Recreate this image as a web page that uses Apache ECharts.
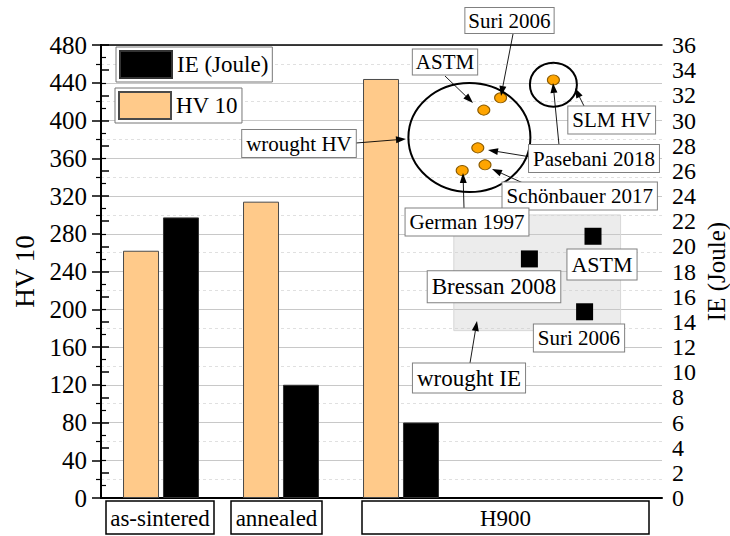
<!DOCTYPE html>
<html>
<head>
<meta charset="utf-8">
<script src="https://cdn.jsdelivr.net/npm/echarts@6/dist/echarts.min.js"></script>
<style>
html,body{margin:0;padding:0;background:#fff;}
#chart{width:730px;height:536px;}
</style>
</head>
<body>
<div id="chart"></div>
<script>
// ---------- data ----------
var categories = ['as-sintered', 'annealed', 'H900'];
var hvValues = [262, 314, 444];          // HV 10 (left axis)
var ieValues = [22.3, 9.0, 6.0];         // IE (Joule) (right axis)

var hvTicks = [0, 480, 40];              // min, max, interval
var ieTicks = [0, 36, 2];

// reference (wrought / SLM) hardness points: x position in axis units, HV value
var hvRefNames = ['ASTM', 'Suri 2006', 'Pasebani 2018', 'Schönbauer 2017', 'German 1997', 'SLM'];
var hvRefX = [3.19, 3.33, 3.14, 3.20, 3.01, 3.77];
var hvRefY = [411, 424, 371, 353, 347, 443];

// reference wrought impact energy points
var ieRefNames = ['Bressan 2008', 'ASTM', 'Suri 2006'];
var ieRefX = [3.57, 4.10, 4.03];
var ieRefY = [19.0, 20.8, 14.8];

// wrought IE band
var wroughtIEx = [2.94, 4.33];
var wroughtIEy = [13.3, 22.5];

// wrought HV / SLM HV encircled groups: centre x, centre HV
var wroughtHVCentre = [3.07, 382];
var slmHVCentre = [3.77, 438];

var FONT = "'Liberation Serif', 'Times New Roman', Times, serif";

var chart = echarts.init(document.getElementById('chart'), null, {renderer: 'svg'});

var groupX = categories.map(function (c, i) { return i + 0.5; });

var option = {
  animation: false,
  backgroundColor: '#fff',
  textStyle: {fontFamily: FONT},
  grid: {left: 101, right: 68, top: 45, bottom: 38, containLabel: false, outerBoundsMode: 'none'},
  legend: [
    {
      data: ['IE (Joule)'], left: 116, top: 47, icon: 'rect',
      itemWidth: 52, itemHeight: 27, borderColor: '#777', borderWidth: 1,
      padding: [3, 4, 3, 3], backgroundColor: '#fff', selectedMode: false,
      textStyle: {fontFamily: FONT, fontSize: 23, color: '#000'}
    },
    {
      data: ['HV 10'], left: 115, top: 88, icon: 'rect',
      itemWidth: 52, itemHeight: 27, borderColor: '#777', borderWidth: 1,
      padding: [3, 4, 3, 3], backgroundColor: '#fff', selectedMode: false,
      textStyle: {fontFamily: FONT, fontSize: 23, color: '#000'}
    }
  ],
  xAxis: [
    {
      type: 'value', min: 0, max: 4.675, position: 'bottom',
      axisLine: {show: true, onZero: false, lineStyle: {color: '#000', width: 2}},
      axisTick: {show: false}, axisLabel: {show: false}, splitLine: {show: false}
    },
    {
      type: 'value', min: 0, max: 4.675, position: 'top',
      axisLine: {show: true, onZero: false, lineStyle: {color: '#000', width: 1.5}},
      axisTick: {show: false}, axisLabel: {show: false}, splitLine: {show: false}
    }
  ],
  yAxis: [
    {
      type: 'value', min: hvTicks[0], max: hvTicks[1], interval: hvTicks[2], position: 'left',
      name: 'HV 10', nameLocation: 'middle', nameGap: 62,
      nameTextStyle: {fontFamily: FONT, fontSize: 27, color: '#000'},
      axisLine: {show: true, lineStyle: {color: '#000', width: 2}},
      axisTick: {show: true, length: 9, lineStyle: {color: '#000', width: 1.5}},
      minorTick: {show: true, splitNumber: 2, length: 5, lineStyle: {color: '#000', width: 1.2}},
      axisLabel: {fontFamily: FONT, fontSize: 25, color: '#000', margin: 14},
      splitLine: {show: true, lineStyle: {color: '#c8c8c8', width: 1}},
      minorSplitLine: {show: true, lineStyle: {color: '#e0e0e0', width: 1, type: [3, 3]}}
    },
    {
      type: 'value', min: ieTicks[0], max: ieTicks[1], interval: ieTicks[2], position: 'right',
      name: 'IE (Joule)', nameLocation: 'middle', nameGap: 42, nameMoveOverlap: false,
      nameTextStyle: {fontFamily: FONT, fontSize: 25, color: '#000', lineHeight: 25},
      axisLine: {show: true, lineStyle: {color: '#000', width: 2}},
      axisTick: {show: true, length: 8, lineStyle: {color: '#000', width: 1.5}},
      minorTick: {show: true, splitNumber: 2, length: 5, lineStyle: {color: '#000', width: 1.2}},
      axisLabel: {fontFamily: FONT, fontSize: 24, color: '#000', margin: 10},
      splitLine: {show: false}
    }
  ],
  series: [
    {
      name: 'HV 10', type: 'bar', xAxisIndex: 0, yAxisIndex: 0,
      barWidth: 36, barGap: '11%',
      itemStyle: {color: '#FFCA8A', borderColor: '#4a4a4a', borderWidth: 1},
      data: hvValues.map(function (v, i) { return [groupX[i], v]; })
    },
    {
      name: 'IE (Joule)', type: 'bar', xAxisIndex: 0, yAxisIndex: 1,
      barWidth: 36, barGap: '11%',
      itemStyle: {color: '#000', borderColor: '#333', borderWidth: 1},
      data: ieValues.map(function (v, i) { return [groupX[i], v]; })
    },
    {
      name: 'wrought IE', type: 'scatter', xAxisIndex: 0, yAxisIndex: 1,
      symbol: 'rect', symbolSize: 17, z: 5,
      itemStyle: {color: '#000', opacity: 1},
      data: ieRefX.map(function (x, i) { return [x, ieRefY[i]]; }),
      markArea: {
        silent: true,
        itemStyle: {color: 'rgba(200,200,200,0.35)', borderColor: '#d8d8d8', borderWidth: 1},
        data: [[{coord: [wroughtIEx[0], wroughtIEy[0]]}, {coord: [wroughtIEx[1], wroughtIEy[1]]}]]
      }
    },
    {
      name: 'wrought HV', type: 'scatter', xAxisIndex: 0, yAxisIndex: 0,
      symbol: 'circle', symbolSize: [12, 10], z: 5,
      itemStyle: {color: '#FFA500', borderColor: '#8a5a00', borderWidth: 1, opacity: 1},
      data: hvRefX.map(function (x, i) { return [x, hvRefY[i]]; })
    }
  ]
};
chart.setOption(option);

// ---------- annotations ----------
function px(x, y, yIdx) {
  return chart.convertToPixel({xAxisIndex: 0, yAxisIndex: yIdx}, [x, y]);
}

var g = [];

function box(text, cx, cy, size, pad) {
  g.push({
    type: 'text', z: 20,
    style: {
      text: text, x: cx, y: cy, align: 'center', verticalAlign: 'middle',
      fontFamily: FONT, fontSize: size, fill: '#000',
      backgroundColor: '#fff', borderColor: '#808080', borderWidth: 1,
      padding: pad || [2, 3]
    }
  });
}

function arrow(x1, y1, x2, y2) {
  var dx = x2 - x1, dy = y2 - y1, L = Math.sqrt(dx * dx + dy * dy);
  var ux = dx / L, uy = dy / L, hl = 10, hw = 3.5;
  var bx = x2 - ux * hl, by = y2 - uy * hl;
  g.push({type: 'line', z: 19, shape: {x1: x1, y1: y1, x2: bx, y2: by},
    style: {stroke: '#000', lineWidth: 0.9}});
  g.push({type: 'polygon', z: 19,
    shape: {points: [[x2, y2], [bx - uy * hw, by + ux * hw], [bx + uy * hw, by - ux * hw]]},
    style: {fill: '#000'}});
}

// encircling ellipses
var c1 = px(wroughtHVCentre[0], wroughtHVCentre[1], 0);
var c2 = px(slmHVCentre[0], slmHVCentre[1], 0);
g.push({type: 'ellipse', z: 18, shape: {cx: c1[0], cy: c1[1], rx: 61, ry: 54.5},
  style: {fill: 'none', stroke: '#000', lineWidth: 2}});
g.push({type: 'ellipse', z: 18, shape: {cx: c2[0], cy: c2[1], rx: 23.5, ry: 22},
  style: {fill: 'none', stroke: '#000', lineWidth: 2}});

// arrows
arrow(513, 34, 501, 96);      // Suri 2006
arrow(445, 76, 473, 103);     // ASTM
arrow(356, 143, 406, 139);    // wrought HV
arrow(584, 106, 575, 88);     // SLM HV
arrow(531, 157, 488, 150);    // Pasebani -> wrought
arrow(559, 145, 553, 83);     // Pasebani -> SLM
arrow(523, 183, 492, 169);    // Schönbauer
arrow(464, 208, 463, 173);    // German
arrow(470, 363, 477, 321);    // wrought IE

// HV annotation labels
box('Suri 2006', 509.5, 20.5, 21);
box(hvRefNames[0], 445, 62, 21);
box('SLM HV', 611.7, 120, 21, [3, 4]);
box('Pasebani 2018', 594, 158.5, 21, [3, 4]);
box('Schönbauer 2017', 579.7, 196, 21, [3, 4]);
box('German 1997', 467, 222, 21, [3, 4]);
box('wrought HV', 299, 143.5, 21, [3, 4]);

// IE annotation labels
box('ASTM', 602, 264.5, 22, [4, 4]);
box('Bressan 2008', 494, 286.7, 23, [4, 4]);
box('Suri 2006', 579, 338, 21, [3, 4]);
box('wrought IE', 469, 378, 23, [3, 4]);

// category label boxes under the axis
var catBoxes = [[106, 214], [231, 322], [362, 649]];
categories.forEach(function (c, i) {
  var b = catBoxes[i];
  g.push({type: 'rect', z: 20, shape: {x: b[0], y: 501, width: b[1] - b[0], height: 33},
    style: {fill: '#fff', stroke: '#000', lineWidth: 1.5}});
  g.push({type: 'text', z: 21, style: {text: c, x: (b[0] + b[1]) / 2, y: 518,
    align: 'center', verticalAlign: 'middle', fontFamily: FONT, fontSize: 23, fill: '#000'}});
});

chart.setOption({graphic: g});
</script>
</body>
</html>
